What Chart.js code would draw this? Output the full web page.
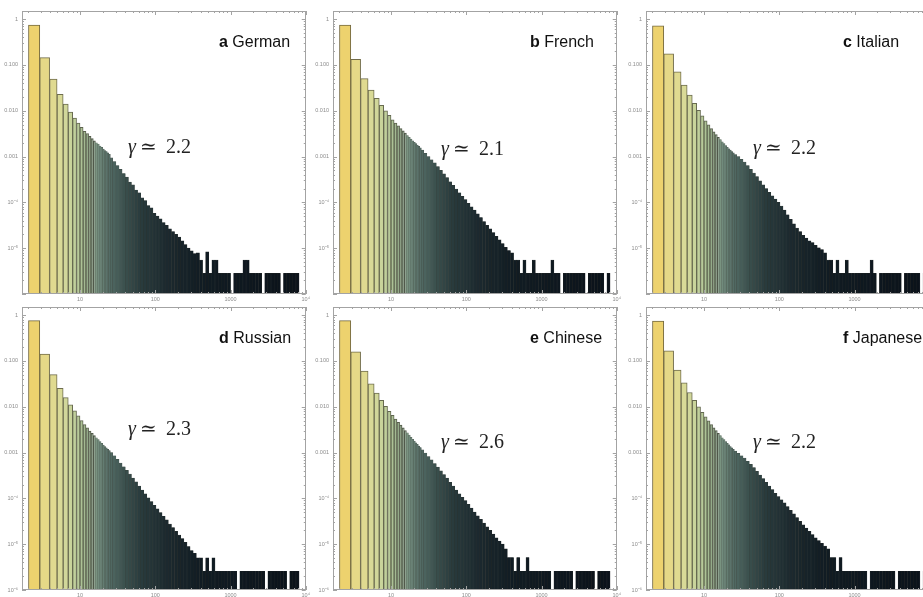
<!DOCTYPE html>
<html>
<head>
<meta charset="utf-8">
<script src="https://cdn.jsdelivr.net/npm/chart.js@4.4.1/dist/chart.umd.min.js"></script>
<style>
html, body { margin: 0; padding: 0; background: #fff; overflow: hidden; width: 923px; height: 597px; }
canvas { position: absolute; }
</style>
</head>
<body>
<canvas id="pa" width="312" height="304" style="left:0px;top:0px"></canvas>
<canvas id="pb" width="312" height="304" style="left:311px;top:0px"></canvas>
<canvas id="pc" width="312" height="304" style="left:624px;top:0px"></canvas>
<canvas id="pd" width="312" height="304" style="left:0px;top:296px"></canvas>
<canvas id="pe" width="312" height="304" style="left:311px;top:296px"></canvas>
<canvas id="pf" width="312" height="304" style="left:624px;top:296px"></canvas>
<script>
// histogram bin edges (degree k), the same for all six panels
var binEdges = [2,3,4,5,6,7,8,9,10,11,12,13,14,15,16,17,18,19,20,21,22,23,24,25,
  27,30,33,36,40,
  44,48,53,58,64,70,77,85,93,102,
  112,123,135,149,164,180,198,218,240,264,
  290,319,351,386,425,467,514,565,622,684,
  752,827,910,1000,1100,1210,1330,1460,1610,1770,
  1950,2140,2360,2590,2850,3140,3450,3800,4180,4600,
  5060,5570,6120,6730,7400,8150,8960,9860];

// log10 of the frequency in each bin (null = empty bin)
var german = [
  -0.13,-0.84,-1.31,-1.64,-1.855,-2.03,-2.16,-2.27,-2.36,-2.45,-2.50,-2.56,
  -2.61,-2.66,-2.70,-2.73,-2.77,-2.80,-2.84,-2.87,-2.89,-2.92,-2.95,
  -3.03,-3.11,-3.20,-3.28,-3.37,
  -3.45,-3.56,-3.62,-3.73,-3.79,-3.90,-3.96,-4.07,-4.12,-4.24,
  -4.30,-4.36,-4.44,-4.50,-4.58,-4.64,-4.70,-4.76,-4.84,-4.92,
  -5.00,-5.06,-5.12,-5.10,-5.26,-5.55,-5.08,-5.55,-5.26,-5.26,
  -5.55,-5.55,-5.55,-5.55,null,-5.55,-5.55,-5.55,-5.26,-5.26,
  -5.55,-5.55,-5.55,-5.55,null,-5.55,-5.55,-5.55,-5.55,-5.55,
  null,-5.55,-5.55,-5.55,-5.55,-5.55,null,null];
var french = [
  -0.13,-0.88,-1.30,-1.55,-1.73,-1.88,-2.00,-2.10,-2.20,-2.27,-2.33,-2.39,
  -2.44,-2.49,-2.54,-2.58,-2.62,-2.66,-2.69,-2.72,-2.75,-2.78,-2.81,
  -2.86,-2.93,-3.00,-3.07,-3.14,
  -3.22,-3.30,-3.38,-3.46,-3.55,-3.63,-3.71,-3.79,-3.87,-3.94,
  -4.02,-4.10,-4.17,-4.25,-4.33,-4.42,-4.50,-4.58,-4.66,-4.74,
  -4.82,-4.90,-4.98,-5.05,-5.10,-5.26,-5.26,-5.55,-5.26,-5.55,
  -5.55,-5.26,-5.55,-5.55,-5.55,-5.55,-5.55,-5.26,-5.55,-5.55,
  null,-5.55,-5.55,-5.55,-5.55,-5.55,-5.55,-5.55,null,-5.55,
  -5.55,-5.55,-5.55,-5.55,null,-5.55,null,null];
var italian = [
  -0.15,-0.76,-1.15,-1.44,-1.66,-1.84,-1.99,-2.11,-2.22,-2.31,-2.39,-2.46,
  -2.52,-2.58,-2.63,-2.68,-2.72,-2.76,-2.80,-2.83,-2.86,-2.89,-2.92,
  -2.96,-3.00,-3.06,-3.12,-3.20,
  -3.28,-3.36,-3.44,-3.53,-3.62,-3.70,-3.78,-3.86,-3.93,-4.00,
  -4.08,-4.17,-4.27,-4.37,-4.47,-4.56,-4.64,-4.72,-4.78,-4.84,
  -4.88,-4.94,-4.99,-5.03,-5.10,-5.26,-5.26,-5.55,-5.26,-5.55,
  -5.55,-5.26,-5.55,-5.55,-5.55,-5.55,-5.55,-5.55,-5.55,-5.26,
  -5.55,null,-5.55,-5.55,-5.55,-5.55,-5.55,-5.55,-5.55,null,
  -5.55,-5.55,-5.55,-5.55,-5.55,null,-5.55,-5.55];
var russian = [
  -0.12,-0.85,-1.30,-1.60,-1.80,-1.96,-2.09,-2.20,-2.30,-2.39,-2.46,-2.53,
  -2.58,-2.63,-2.68,-2.72,-2.76,-2.80,-2.84,-2.87,-2.90,-2.93,-2.96,
  -3.00,-3.07,-3.15,-3.23,-3.31,
  -3.39,-3.47,-3.56,-3.64,-3.73,-3.82,-3.90,-3.99,-4.07,-4.15,
  -4.23,-4.31,-4.39,-4.47,-4.56,-4.64,-4.72,-4.80,-4.88,-4.96,
  -5.05,-5.14,-5.20,-5.30,-5.30,-5.59,-5.30,-5.59,-5.30,-5.59,
  -5.59,-5.59,-5.59,-5.59,-5.59,-5.59,null,-5.59,-5.59,-5.59,
  -5.59,-5.59,-5.59,-5.59,-5.59,null,-5.59,-5.59,-5.59,-5.59,
  -5.59,-5.59,null,-5.59,-5.59,-5.59,null,null];
var chinese = [
  -0.12,-0.80,-1.22,-1.50,-1.70,-1.86,-1.99,-2.10,-2.19,-2.27,-2.34,-2.40,
  -2.46,-2.52,-2.57,-2.62,-2.67,-2.71,-2.75,-2.79,-2.82,-2.86,-2.89,
  -2.94,-3.01,-3.09,-3.16,-3.24,
  -3.32,-3.40,-3.48,-3.56,-3.65,-3.73,-3.82,-3.90,-3.98,-4.05,
  -4.13,-4.21,-4.30,-4.38,-4.46,-4.54,-4.62,-4.70,-4.78,-4.86,
  -4.93,-5.00,-5.10,-5.29,-5.29,-5.59,-5.29,-5.59,-5.59,-5.29,
  -5.59,-5.59,-5.59,-5.59,-5.59,-5.59,-5.59,null,-5.59,-5.59,
  -5.59,-5.59,-5.59,-5.59,null,-5.59,-5.59,-5.59,-5.59,-5.59,
  -5.59,null,-5.59,-5.59,-5.59,-5.59,null,null];
var japanese = [
  -0.13,-0.78,-1.20,-1.48,-1.69,-1.86,-2.00,-2.12,-2.22,-2.31,-2.39,-2.46,
  -2.52,-2.58,-2.63,-2.68,-2.72,-2.76,-2.80,-2.83,-2.87,-2.90,-2.93,
  -2.97,-3.02,-3.07,-3.12,-3.19,
  -3.26,-3.33,-3.41,-3.49,-3.57,-3.65,-3.73,-3.81,-3.89,-3.96,
  -4.03,-4.10,-4.18,-4.26,-4.34,-4.42,-4.50,-4.58,-4.65,-4.72,
  -4.79,-4.86,-4.92,-4.98,-5.04,-5.10,-5.29,-5.29,-5.59,-5.29,
  -5.59,-5.59,-5.59,-5.59,-5.59,-5.59,-5.59,-5.59,null,-5.59,
  -5.59,-5.59,-5.59,-5.59,-5.59,-5.59,-5.59,null,-5.59,-5.59,
  -5.59,-5.59,-5.59,-5.59,-5.59,null,-5.59,-5.59];

var xTickValues = [10, 100, 1000, 10000];
var yTickValues = [1e-6, 1e-5, 1e-4, 0.001, 0.01, 0.1, 1];
var yTickText = {'0':'1', '-1':'0.100', '-2':'0.010', '-3':'0.001', '-4':'10\u207B\u2074', '-5':'10\u207B\u2075', '-6':'10\u207B\u2076'};
var xTickText = {'1':'10', '2':'100', '3':'1000', '4':'10\u2074'};

// colour ramp along log10(k): gold -> pale green -> slate -> near black
var colorStops = [
  [0.30, [242,206,90]], [0.48, [232,214,130]], [0.62, [226,218,142]], [0.75, [216,218,152]],
  [0.90, [198,211,156]], [1.00, [178,198,152]], [1.12, [148,172,140]], [1.25, [112,138,124]],
  [1.40, [82,106,100]], [1.60, [58,79,77]], [1.80, [42,60,62]], [2.10, [29,43,48]],
  [2.60, [17,28,35]], [4.00, [10,17,25]]];

function rampRgb(k) {
  var t = Math.log10(k);
  if (t <= colorStops[0][0]) return colorStops[0][1];
  for (var i = 1; i < colorStops.length; i++) {
    if (t <= colorStops[i][0]) {
      var a = colorStops[i - 1], b = colorStops[i];
      var f = (t - a[0]) / (b[0] - a[0]);
      return a[1].map(function (v, j) { return Math.round(v + (b[1][j] - v) * f); });
    }
  }
  return colorStops[colorStops.length - 1][1];
}

var frameTicks = {
  id: 'frameTicks',
  afterDatasetsDraw: function (chart) {
    var ctx = chart.ctx, area = chart.chartArea;
    var xs = chart.scales.x, ys = chart.scales.y;
    ctx.save();
    ctx.strokeStyle = '#a3a3a3';
    ctx.lineWidth = 1;
    ctx.strokeRect(Math.round(area.left) + 0.5, Math.round(area.top) + 0.5,
      Math.round(area.right - area.left) - 1, Math.round(area.bottom - area.top) - 1);
    ctx.beginPath();
    for (var d = 0; d <= 4; d++) {
      for (var m = 1; m <= 9; m++) {
        var v = m * Math.pow(10, d);
        if (v < xs.min || v > xs.max) continue;
        var px = Math.round(xs.getPixelForValue(v)) + 0.5;
        var len = m === 1 ? 4 : 2;
        ctx.moveTo(px, area.bottom); ctx.lineTo(px, area.bottom - len);
        ctx.moveTo(px, area.top); ctx.lineTo(px, area.top + len);
      }
    }
    for (var e = -6; e <= 0; e++) {
      for (var n = 1; n <= 9; n++) {
        var w = n * Math.pow(10, e);
        if (w < ys.min || w > ys.max) continue;
        var py = Math.round(ys.getPixelForValue(w)) + 0.5;
        var l2 = n === 1 ? 4 : 2;
        ctx.moveTo(area.left, py); ctx.lineTo(area.left + l2, py);
        ctx.moveTo(area.right, py); ctx.lineTo(area.right - l2, py);
      }
    }
    ctx.stroke();
    ctx.restore();
  }
};

var panelText = {
  id: 'panelText',
  afterDraw: function (chart, args, opts) {
    var ctx = chart.ctx, area = chart.chartArea;
    ctx.save();
    ctx.fillStyle = '#111';
    ctx.textBaseline = 'alphabetic';
    var tx = area.left + 197, ty = area.top + 36;
    ctx.font = 'bold 16px "Liberation Sans", Arial, sans-serif';
    ctx.fillText(opts.letter, tx, ty);
    var lw = ctx.measureText(opts.letter + ' ').width;
    ctx.font = '16px "Liberation Sans", Arial, sans-serif';
    ctx.fillText(opts.name, tx + lw, ty);
    var gx = area.left + opts.gx, gy = area.top + opts.gy;
    ctx.fillStyle = '#222';
    ctx.font = 'italic 20px "Liberation Serif", "DejaVu Serif", serif';
    ctx.fillText('\u03B3', gx, gy);
    ctx.font = '20px "DejaVu Serif", serif';
    ctx.fillText('\u2243', gx + 12, gy);
    ctx.font = '20px "Liberation Serif", "DejaVu Serif", serif';
    ctx.fillText(opts.gamma, gx + 38, gy);
    ctx.restore();
  }
};

function makePanel(id, values, text, showBottomLabel) {
  var points = [], fills = [], edges = [], widths = [];
  for (var i = 0; i < values.length; i++) {
    var lo = binEdges[i], hi = binEdges[i + 1];
    var mid = Math.sqrt(lo * hi);
    points.push({x: mid, y: values[i] === null ? null : Math.pow(10, values[i])});
    var c = rampRgb(mid);
    fills.push('rgb(' + c.join(',') + ')');
    var wide = hi - lo === 1 && lo < 16;
    var mix = wide ? 0.35 : 0.6;
    edges.push('rgb(' + c.map(function (v, j) { return Math.round(mix * v + (1 - mix) * [52, 50, 40][j]); }).join(',') + ')');
    widths.push(wide ? 1 : 0.45);
  }
  return new Chart(document.getElementById(id), {
    type: 'bar',
    data: {
      datasets: [{
        data: points,
        backgroundColor: fills,
        borderColor: edges,
        borderWidth: widths,
        borderSkipped: 'start',
        barThickness: 'flex',
        categoryPercentage: 1,
        barPercentage: 1
      }]
    },
    plugins: [frameTicks, panelText],
    options: {
      responsive: false,
      animation: false,
      layout: { padding: { top: 11, right: 6, left: 0, bottom: 0 } },
      plugins: {
        legend: { display: false },
        tooltip: { enabled: false },
        panelText: text
      },
      scales: {
        x: {
          type: 'logarithmic',
          min: 1.69,
          max: 10000,
          grid: { display: false, drawTicks: false },
          border: { display: false },
          afterBuildTicks: function (s) { s.ticks = xTickValues.map(function (v) { return {value: v}; }); },
          afterFit: function (s) { s.height = 10; },
          ticks: {
            autoSkip: false, maxRotation: 0, padding: 2,
            color: '#8c8c8c',
            font: { size: 5.5, family: '"Liberation Sans", Arial, sans-serif' },
            callback: function (v) { return xTickText[String(Math.round(Math.log10(v)))]; }
          }
        },
        y: {
          type: 'logarithmic',
          min: 1e-6,
          max: 1.5,
          grid: { display: false, drawTicks: false },
          border: { display: false },
          afterBuildTicks: function (s) { s.ticks = yTickValues.map(function (v) { return {value: v}; }); },
          afterFit: function (s) { s.width = 22; },
          ticks: {
            autoSkip: false, padding: 4,
            color: '#8c8c8c',
            font: { size: 5.5, family: '"Liberation Sans", Arial, sans-serif' },
            callback: function (v) {
              var e = Math.round(Math.log10(v));
              if (e === -6 && !showBottomLabel) return '';
              return yTickText[String(e)];
            }
          }
        }
      }
    }
  });
}

makePanel('pa', german,   {letter: 'a', name: 'German',   gamma: '2.2', gx: 106, gy: 142}, false);
makePanel('pb', french,   {letter: 'b', name: 'French',   gamma: '2.1', gx: 108, gy: 144}, false);
makePanel('pc', italian,  {letter: 'c', name: 'Italian',  gamma: '2.2', gx: 107, gy: 143}, false);
makePanel('pd', russian,  {letter: 'd', name: 'Russian',  gamma: '2.3', gx: 106, gy: 128}, true);
makePanel('pe', chinese,  {letter: 'e', name: 'Chinese',  gamma: '2.6', gx: 108, gy: 141}, true);
makePanel('pf', japanese, {letter: 'f', name: 'Japanese', gamma: '2.2', gx: 107, gy: 141}, true);
</script>
</body>
</html>
